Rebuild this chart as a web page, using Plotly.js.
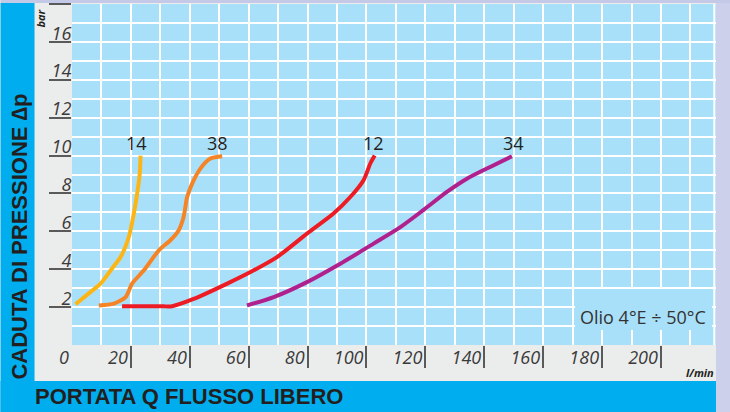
<!DOCTYPE html>
<html>
<head>
<meta charset="utf-8">
<script src="https://cdn.plot.ly/plotly-3.0.1.min.js"></script>
<style>
  html, body { margin: 0; padding: 0; background: #EBECEC; }
  #chart { width: 730px; height: 412px; }
</style>
</head>
<body>
<div id="chart"></div>
<script>
// ---- Data ----
const curveNames = ["14", "38", "12", "34"];
const x14 = [1.2, 5.5, 9.7, 13.6, 16.5, 19.3, 21.0, 22.3, 23.0, 23.3];
const y14 = [2.15, 2.7, 3.24, 4.04, 4.64, 5.7, 6.94, 8.17, 9.05, 10.0];
const x38 = [9.1, 14.2, 18.2, 20.4, 24.4, 29.5, 33.4, 36.2, 37.9, 39.1, 40.8, 43.6, 47.0, 51.0];
const y38 = [2.09, 2.18, 2.53, 3.24, 3.94, 5.0, 5.53, 6.05, 6.76, 7.81, 8.52, 9.31, 9.84, 9.96];
const x12 = [17.0, 25.0, 31.0, 34.0, 41.3, 52.7, 60.6, 69.6, 79.8, 88.8, 94.5, 99.0, 101.3, 102.8];
const y12 = [2.04, 2.04, 2.04, 2.05, 2.43, 3.24, 3.85, 4.64, 5.88, 6.94, 7.81, 8.70, 9.58, 10.0];
const x34 = [59.4, 68.5, 79.8, 91.1, 102.4, 111.5, 119.4, 127.3, 134.1, 142.0, 149.4];
const y34 = [2.09, 2.53, 3.32, 4.29, 5.35, 6.22, 7.13, 8.08, 8.78, 9.40, 9.96];
// label positions at curve tops
const labelX = [21.9, 49.4, 102.3, 149.8];
const labelY = [10.65, 10.65, 10.65, 10.65];

// x axis: grid every 10, labels every 20, tick marks 20..200
const xGridVals = [0, 10, 20, 30, 40, 50, 60, 70, 80, 90, 100, 110, 120, 130, 140, 150, 160, 170, 180, 190, 200, 210];
const xGridText = ["0", "", "20", "", "40", "", "60", "", "80", "", "100", "", "120", "", "140", "", "160", "", "180", "", "200", ""];
const xTickMarks = [20, 40, 60, 80, 100, 120, 140, 160, 180, 200];
const yTickVals = [2, 4, 6, 8, 10, 12, 14, 16, 18];
const yTickText = ["2", "4", "6", "8", "10", "12", "14", "16", ""];

const yTitle = "CADUTA DI PRESSIONE ∆p";
const xTitle = "PORTATA Q FLUSSO LIBERO";
const yUnit = "bar";
const xUnit = "l/min";
const note = "Olio 4°E ÷ 50°C";

// ---- Layout geometry ----
const W = 730, H = 412, ML = 71.5, MR = 14, MT = 4, MB = 67;
const PW = W - ML - MR, PH = H - MT - MB;
const px = v => (v - ML) / PW;          // pixel x -> paper x
const py = v => (H - MB - v) / PH;      // pixel y -> paper y
const XMAX = PW / 2.947;

const lineColors = ["#FDB515", "#F58426", "#ED1C24", "#B0218E"];
const xs = [x14, x38, x12, x34];
const ys = [y14, y38, y12, y34];

const traces = xs.map((x, i) => ({
  type: "scatter", mode: "lines", x: x, y: ys[i],
  line: { color: lineColors[i], width: 4, shape: "spline", smoothing: 0.7 },
  name: curveNames[i], showlegend: false, hoverinfo: "skip"
}));

const tickFont = { family: "Open Sans", size: 18, color: "#3a3a3a", style: "italic" };

const shapes = [
  { type: "rect", xref: "paper", yref: "paper", x0: px(0), x1: px(34), y0: py(412), y1: py(3),
    fillcolor: "#00AEEF", line: { width: 0 }, layer: "below" },
  { type: "rect", xref: "paper", yref: "paper", x0: px(0), x1: px(716), y0: py(412), y1: py(381),
    fillcolor: "#00AEEF", line: { width: 0 }, layer: "below" },
  { type: "rect", xref: "paper", yref: "paper", x0: px(716), x1: px(730), y0: py(412), y1: py(0),
    fillcolor: "#CDD0EB", line: { width: 0 }, layer: "below" },
  { type: "rect", xref: "paper", yref: "paper", x0: px(0), x1: px(730), y0: py(3), y1: py(0),
    fillcolor: "#C5C9E8", line: { width: 0 }, layer: "below" },
  { type: "line", xref: "paper", yref: "paper", x0: px(714.3), x1: px(714.3), y0: 0, y1: 1,
    line: { color: "#ffffff", width: 2 }, layer: "below" },
  { type: "rect", xref: "paper", yref: "paper", x0: px(575), x1: px(712), y0: py(330), y1: py(289),
    fillcolor: "#A9E0F9", line: { width: 0 }, layer: "above" }
];

const annotations = labelX.map((x, i) => ({
  x: x, y: labelY[i], xref: "x", yref: "y", text: curveNames[i], showarrow: false,
  font: { family: "Open Sans", size: 18, color: "#231F20" }
}));
annotations.push(
  { xref: "paper", yref: "paper", x: px(18), y: py(237), text: yTitle, textangle: -90,
    showarrow: false, xanchor: "center", yanchor: "middle",
    font: { family: "Liberation Sans", size: 22, color: "#231F20", weight: 700 } },
  { xref: "paper", yref: "paper", x: px(32), y: py(396), text: xTitle,
    showarrow: false, xanchor: "left", yanchor: "middle",
    font: { family: "Liberation Sans", size: 22, color: "#231F20", weight: 700 } },
  { xref: "paper", yref: "paper", x: px(40), y: py(18), text: yUnit, textangle: -90,
    showarrow: false, xanchor: "center", yanchor: "middle",
    font: { family: "Open Sans", size: 11, color: "#231F20", weight: 700, style: "italic" } },
  { xref: "paper", yref: "paper", x: px(700), y: py(372), text: xUnit,
    showarrow: false, xanchor: "center", yanchor: "middle",
    font: { family: "Open Sans", size: 11, color: "#231F20", weight: 700, style: "italic" } },
  { xref: "paper", yref: "paper", x: px(643), y: py(317), text: note,
    showarrow: false, xanchor: "center", yanchor: "middle",
    font: { family: "Open Sans", size: 18, color: "#333333" } }
);

const layout = {
  width: W, height: H,
  margin: { l: ML, r: MR, t: MT, b: MB, pad: 0 },
  paper_bgcolor: "#EBECEC",
  plot_bgcolor: "#A9E0F9",
  showlegend: false,
  xaxis: {
    range: [0, XMAX], tickmode: "array", tickvals: xGridVals, ticktext: xGridText,
    ticks: "", ticklabelposition: "outside left", ticklabelshift: -3, tickfont: tickFont,
    showgrid: true, gridcolor: "#ffffff", gridwidth: 2, zeroline: false, showline: false,
    minor: { tickmode: "array", tickvals: xTickMarks, showgrid: false,
             ticks: "outside", ticklen: 22, tickwidth: 2, tickcolor: "#5a5a5a" },
    fixedrange: true
  },
  yaxis: {
    range: [0, 18], tickmode: "array", tickvals: yTickVals, ticktext: yTickText,
    ticks: "outside", ticklen: 22, tickwidth: 2, tickcolor: "#5a5a5a",
    ticklabelposition: "outside top", ticklabelstandoff: -4, ticklabelshift: 5, tickfont: tickFont,
    showgrid: true, gridcolor: "#ffffff", gridwidth: 2, zeroline: false, showline: false,
    minor: { dtick: 1, showgrid: true, gridcolor: "#ffffff", gridwidth: 2, ticks: "" },
    fixedrange: true
  },
  shapes: shapes,
  annotations: annotations
};

Plotly.newPlot("chart", traces, layout, { staticPlot: true, displayModeBar: false });
</script>
</body>
</html>
